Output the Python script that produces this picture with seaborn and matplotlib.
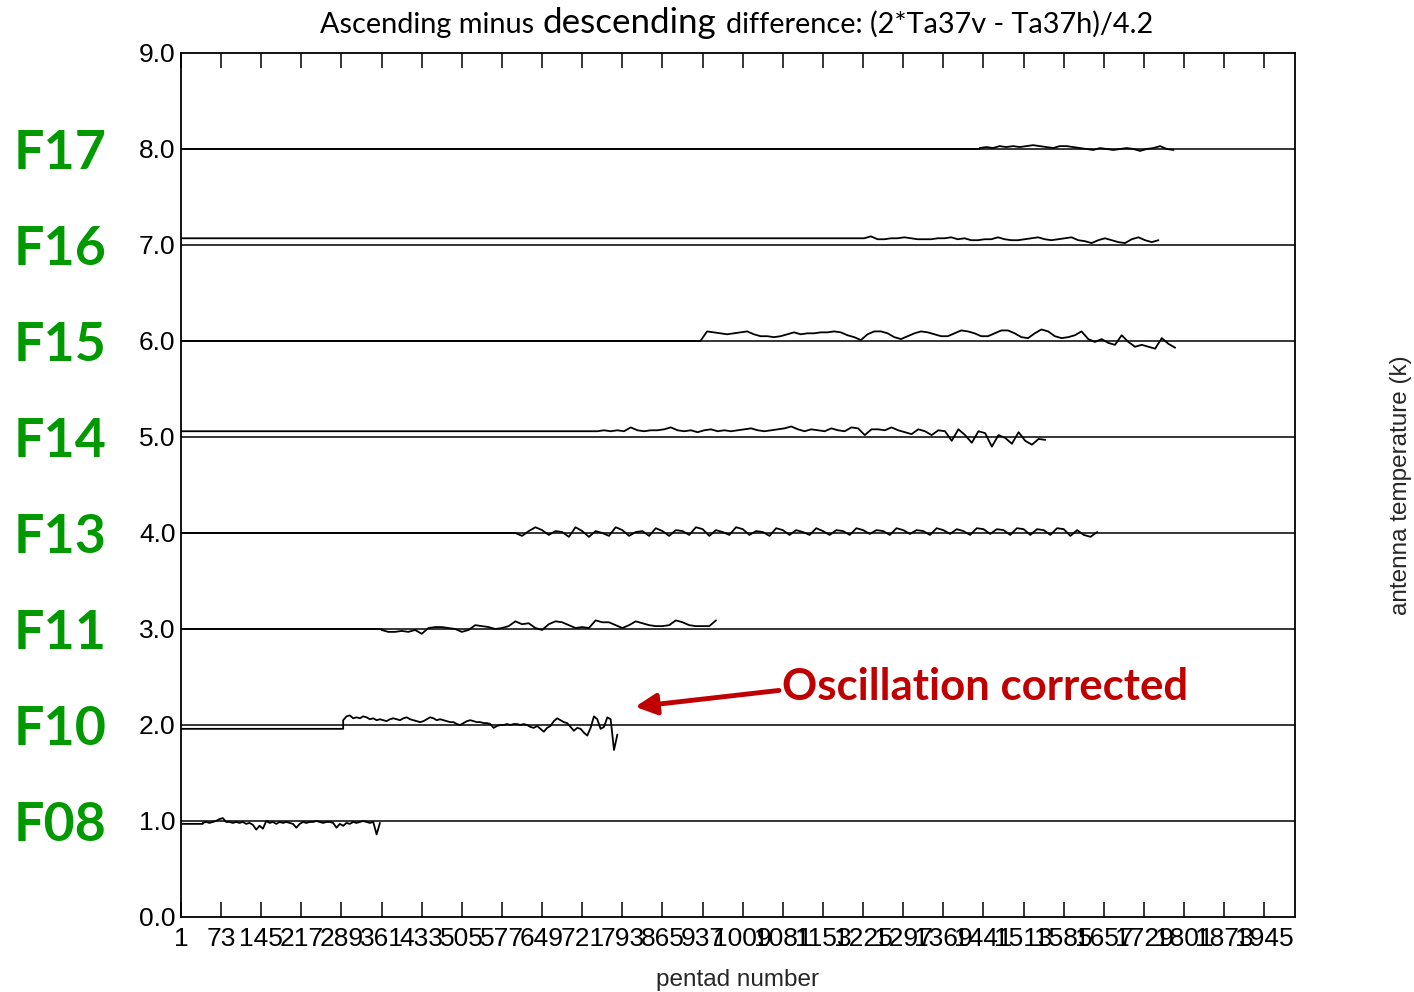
import numpy as np
import pandas as pd
import matplotlib
matplotlib.use("Agg")
import matplotlib.pyplot as plt
import seaborn as sns
from matplotlib.transforms import blended_transform_factory

# ---------------- data ----------------
satellites = ["F08", "F10", "F11", "F13", "F14", "F15", "F16", "F17"]
levels = [1.0, 2.0, 3.0, 4.0, 5.0, 6.0, 7.0, 8.0]
pre_values = [0.97, 1.96, 3.0, 4.0, 5.06, 6.0, 7.07, 8.0]
start_pentad = [40, 292, 361, 601, 748, 933, 1215, 1434]
step_pentad = [6, 6, 12, 12, 12, 12, 12, 12]

f08 = [0.98, 0.99, 0.98, 0.99, 1.00, 1.02, 1.03, 0.99, 0.99, 0.98, 0.99, 0.98, 0.99, 0.97,
       0.98, 0.96, 0.91, 0.95, 0.92, 1.00, 0.98, 0.99, 0.97, 0.99, 0.98, 0.99, 0.98, 0.97,
       0.93, 0.97, 0.99, 0.98, 0.99, 0.99, 1.00, 0.99, 0.98, 0.99, 0.99, 0.98, 0.93, 0.97,
       0.95, 0.98, 0.97, 0.99, 0.98, 0.99, 1.00, 0.99, 0.98, 0.99, 0.86, 0.98]
f10 = [2.05, 2.09, 2.10, 2.07, 2.08, 2.07, 2.09, 2.08, 2.06, 2.07, 2.05, 2.06, 2.05, 2.04,
       2.06, 2.07, 2.06, 2.05, 2.07, 2.08, 2.06, 2.05, 2.04, 2.03, 2.04, 2.06, 2.08, 2.07,
       2.05, 2.06, 2.05, 2.04, 2.03, 2.03, 2.01, 2.00, 2.02, 2.04, 2.05, 2.04, 2.03, 2.03,
       2.02, 2.02, 2.01, 1.97, 1.99, 2.00, 2.00, 2.01, 2.00, 2.01, 2.01, 2.00, 2.01, 2.00,
       1.98, 1.97, 1.99, 1.96, 1.93, 1.97, 1.99, 2.04, 2.07, 2.05, 2.03, 2.02, 1.98, 1.94,
       1.97, 1.96, 1.92, 1.89, 1.97, 2.09, 2.06, 1.96, 1.98, 2.08, 2.06, 1.74, 1.90]
f11 = [2.99, 2.97, 2.97, 2.98, 2.97, 2.99, 2.95, 3.01, 3.02, 3.02, 3.01, 3.00, 2.97, 2.99,
       3.04, 3.03, 3.02, 3.00, 3.01, 3.03, 3.08, 3.05, 3.06, 3.01, 2.99, 3.05, 3.08, 3.07,
       3.04, 3.01, 3.02, 3.01, 3.09, 3.07, 3.07, 3.04, 3.01, 3.04, 3.08, 3.06, 3.04, 3.03,
       3.03, 3.04, 3.09, 3.07, 3.04, 3.03, 3.03, 3.03, 3.09]
f13 = [4.00, 3.97, 4.02, 4.06, 4.03, 3.98, 4.02, 4.01, 3.96, 4.06, 4.02, 3.96, 4.02, 4.00,
       3.97, 4.06, 4.03, 3.97, 4.01, 4.02, 3.97, 4.05, 4.02, 3.97, 4.03, 4.02, 3.98, 4.06,
       4.04, 3.97, 4.03, 4.01, 3.98, 4.06, 4.04, 3.98, 4.02, 4.01, 3.97, 4.05, 4.03, 3.98,
       4.03, 4.01, 3.98, 4.05, 4.02, 3.98, 4.03, 4.02, 3.98, 4.05, 4.03, 3.99, 4.03, 4.02,
       3.98, 4.05, 4.03, 3.99, 4.03, 4.02, 3.98, 4.05, 4.03, 3.99, 4.04, 4.02, 3.98, 4.05,
       4.04, 3.99, 4.04, 4.03, 3.98, 4.05, 4.04, 3.98, 4.04, 4.03, 3.98, 4.05, 4.04, 3.97,
       4.03, 3.98, 3.96, 4.01]
f14 = [5.06, 5.07, 5.06, 5.07, 5.06, 5.10, 5.07, 5.06, 5.07, 5.07, 5.08, 5.10, 5.07, 5.06,
       5.07, 5.05, 5.07, 5.08, 5.06, 5.07, 5.06, 5.07, 5.08, 5.09, 5.07, 5.06, 5.07, 5.08,
       5.09, 5.11, 5.08, 5.06, 5.08, 5.07, 5.06, 5.09, 5.07, 5.06, 5.10, 5.09, 5.02, 5.08,
       5.08, 5.07, 5.10, 5.07, 5.05, 5.03, 5.08, 5.06, 5.02, 5.07, 5.06, 4.96, 5.08, 5.02,
       4.94, 5.06, 5.04, 4.90, 5.02, 4.99, 4.93, 5.05, 4.96, 4.92, 4.98, 4.97]
f15 = [6.00, 6.10, 6.09, 6.08, 6.07, 6.08, 6.09, 6.10, 6.07, 6.05, 6.05, 6.04, 6.05, 6.07,
       6.09, 6.07, 6.08, 6.08, 6.09, 6.09, 6.10, 6.09, 6.06, 6.04, 6.01, 6.07, 6.10, 6.10,
       6.08, 6.04, 6.02, 6.05, 6.08, 6.10, 6.09, 6.07, 6.05, 6.05, 6.08, 6.11, 6.10, 6.08,
       6.05, 6.05, 6.08, 6.11, 6.11, 6.08, 6.04, 6.03, 6.08, 6.12, 6.10, 6.05, 6.03, 6.04,
       6.06, 6.10, 6.02, 5.99, 6.02, 5.98, 5.96, 6.06, 5.99, 5.94, 5.96, 5.94, 5.92, 6.03,
       5.97, 5.93]
f16 = [7.07, 7.07, 7.09, 7.06, 7.06, 7.07, 7.07, 7.08, 7.07, 7.06, 7.06, 7.06, 7.07, 7.07,
       7.08, 7.06, 7.07, 7.05, 7.05, 7.06, 7.06, 7.08, 7.06, 7.05, 7.05, 7.06, 7.07, 7.08,
       7.06, 7.05, 7.06, 7.07, 7.08, 7.05, 7.04, 7.02, 7.05, 7.07, 7.05, 7.03, 7.02, 7.06,
       7.08, 7.05, 7.03, 7.05]
f17 = [8.01, 8.02, 8.01, 8.03, 8.02, 8.03, 8.02, 8.03, 8.04, 8.03, 8.02, 8.01, 8.03, 8.03,
       8.02, 8.01, 8.00, 7.99, 8.01, 8.00, 7.99, 8.00, 8.01, 8.00, 7.98, 8.00, 8.01, 8.03,
       8.00, 7.99]
series_values = [f08, f10, f11, f13, f14, f15, f16, f17]

xtick_values = [1, 73, 145, 217, 289, 361, 433, 505, 577, 649, 721, 793, 865, 937,
                1009, 1081, 1153, 1225, 1297, 1369, 1441, 1513, 1585, 1657, 1729, 1801, 1873, 1945]
xtick_labels = [str(v) for v in xtick_values]
ytick_values = [0, 1, 2, 3, 4, 5, 6, 7, 8, 9]
ytick_labels = ["0.0", "1.0", "2.0", "3.0", "4.0", "5.0", "6.0", "7.0", "8.0", "9.0"]

title_parts = ["Ascending minus", "descending", "difference: (2*Ta37v - Ta37h)/4.2"]
annot_text = "Oscillation corrected"

# ---------------- long-form table ----------------
rows = []
for sat, pre, st, stp, vals in zip(satellites, pre_values, start_pentad, step_pentad, series_values):
    rows.append((sat, 1, pre))
    rows.append((sat, st, pre))
    for i, v in enumerate(vals):
        rows.append((sat, st + stp * i, v))
df = pd.DataFrame(rows, columns=["satellite", "pentad", "value"])

# ---------------- figure ----------------
sns.set_style("white")
plt.rcParams["font.family"] = ["Liberation Sans", "DejaVu Sans"]

W, H = 1414, 992
fig = plt.figure(figsize=(W / 100, H / 100), dpi=100)
L, R, T, B = 181, 1295, 53, 917
ax = fig.add_axes([L / W, 1 - B / H, (R - L) / W, (B - T) / H])

for lv in levels:
    ax.axhline(lv, color="black", lw=1.1, zorder=1)

sns.lineplot(data=df, x="pentad", y="value", units="satellite", estimator=None,
             sort=False, color="black", lw=1.3, ax=ax, zorder=2)

ax.set_xlim(1, 2000)
ax.set_ylim(0, 9)
ax.set_xticks(xtick_values)
ax.set_xticklabels(xtick_labels)
ax.set_yticks(ytick_values)
ax.set_yticklabels(ytick_labels)
ax.tick_params(axis="x", which="both", direction="in", length=11, width=1.1,
               top=True, bottom=True, labelsize=19, pad=7, colors="black")
ax.tick_params(axis="y", length=0, labelsize=19, pad=4, colors="black")
for sp in ax.spines.values():
    sp.set_visible(True)
    sp.set_color("black")
    sp.set_linewidth(1.3)

ax.set_xlabel("pentad number", fontsize=17.5)
ax.xaxis.set_label_coords(0.5, (B - 969) / (B - T))
ax.set_ylabel("antenna temperature (k)", fontsize=17.5)
ax.yaxis.set_label_position("right")
ax.yaxis.set_label_coords((1401 - L) / (R - L), 0.5)
ax.yaxis.label.set_rotation(90)
ax.yaxis.label.set_va("center")
ax.yaxis.label.set_ha("center")

renderer = fig.canvas.get_renderer()

# ---------------- title (mixed sizes) ----------------
def place_parts(scale):
    sizes = [19.5 * scale, 23.5 * scale, 19.5 * scale]
    x = 320
    objs = []
    for k, (txt, sz) in enumerate(zip(title_parts, sizes)):
        t = fig.text(x / W, 1 - 33 / H, txt, fontsize=sz, family=["Lato", "DejaVu Sans"],
                     ha="left", va="baseline", color="black")
        bb = t.get_window_extent(renderer)
        objs.append(t)
        x = bb.x1 + 0.28 * sz * 100 / 72
    total = objs[-1].get_window_extent(renderer).x1 - 320
    return objs, total

objs, total = place_parts(1.0)
for o in objs:
    o.remove()
objs, total = place_parts(835 / total)

# ---------------- satellite labels ----------------
green = "#009A00"
tr = blended_transform_factory(fig.transFigure, ax.transData)
probe = fig.text(0, 0, "F17", fontsize=40, fontweight="bold", family=["Lato", "DejaVu Sans"])
pw = probe.get_window_extent(renderer).width
probe.remove()
fs_lab = 40 * (92 / pw) ** 0.8
for sat, lv in zip(satellites, levels):
    ax.text(14 / W, lv, sat, transform=tr, fontsize=fs_lab, fontweight="bold",
            family=["Lato", "DejaVu Sans"], color=green, ha="left", va="center_baseline",
            clip_on=False)

# ---------------- annotation ----------------
red = "#C00000"
probe = fig.text(0, 0, annot_text, fontsize=28, fontweight="bold", family=["Lato", "DejaVu Sans"])
aw = probe.get_window_extent(renderer).width
probe.remove()
fs_ann = 28 * 406 / aw
ax.text(1080, 2.43, annot_text, fontsize=fs_ann, fontweight="bold",
        family=["Lato", "DejaVu Sans"], color=red, ha="left", va="center_baseline")
ax.annotate("", xy=(816, 2.19), xytext=(1074, 2.36),
            arrowprops=dict(arrowstyle="-|>", color=red, lw=3.5, mutation_scale=32,
                            shrinkA=0, shrinkB=0))

fig.savefig("out.png", dpi=100, facecolor="white")
